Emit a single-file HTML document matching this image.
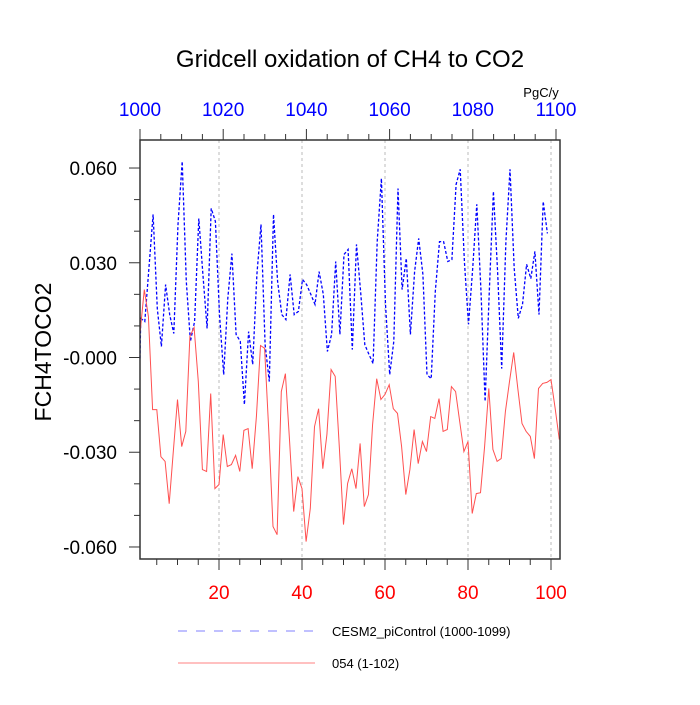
<!DOCTYPE html>
<html><head><meta charset="utf-8"><style>
body{margin:0;background:#fff}
svg text{font-family:"Liberation Sans",sans-serif}
</style></head><body>
<svg id="chart" width="700" height="700" xmlns="http://www.w3.org/2000/svg">
<text x="350" y="67" text-anchor="middle" font-size="24">Gridcell oxidation of CH4 to CO2</text>
<text transform="translate(51,352) rotate(-90)" text-anchor="middle" font-size="23">FCH4TOCO2</text>
<text x="541" y="97" text-anchor="middle" font-size="13">PgC/y</text>
<g id="grid"></g><g id="series"></g><g id="axes"></g>
<g>
<line x1="178" y1="631" x2="315" y2="631" stroke="#8080ff" stroke-width="1" stroke-dasharray="9,9"/>
<text x="332" y="636" font-size="13">CESM2_piControl (1000-1099)</text>
<line x1="178" y1="663" x2="315" y2="663" stroke="#ff8080" stroke-width="1"/>
<text x="332" y="668" font-size="13">054 (1-102)</text>
</g>
</svg>
<script>
const blueYears0 = 1000;
const blueValues = [-0.0003,0.0124,0.0114,0.0282,0.0453,0.0155,0.0035,0.0231,0.0136,0.0076,0.0421,0.0621,0.0241,0.0051,0.0114,0.0440,0.0263,0.0092,0.0472,0.0431,0.0136,-0.0054,0.0187,0.0329,0.0073,0.0051,-0.0149,0.0082,-0.0022,0.0263,0.0421,0.0041,-0.0076,0.0453,0.0241,0.0136,0.0120,0.0263,0.0136,0.0146,0.0247,0.0231,0.0200,0.0168,0.0272,0.0200,0.0019,0.0073,0.0304,0.0073,0.0326,0.0342,0.0025,0.0358,0.0209,0.0041,0.0010,-0.0019,0.0367,0.0567,0.0168,-0.0054,0.0051,0.0535,0.0215,0.0314,0.0073,0.0272,0.0377,0.0263,-0.0054,-0.0067,0.0209,0.0367,0.0367,0.0304,0.0310,0.0548,0.0596,0.0304,0.0105,0.0282,0.0485,0.0209,-0.0139,0.0209,0.0526,0.0272,-0.0035,0.0367,0.0596,0.0282,0.0124,0.0168,0.0295,0.0250,0.0336,0.0136,0.0494,0.0393];
const redValues = [0.0082,0.0215,0.0130,-0.0165,-0.0165,-0.0314,-0.0329,-0.0463,-0.0298,-0.0133,-0.0282,-0.0234,0.0067,0.0095,-0.0076,-0.0355,-0.0361,-0.0114,-0.0415,-0.0402,-0.0244,-0.0345,-0.0339,-0.0310,-0.0361,-0.0231,-0.0225,-0.0352,-0.0187,0.0038,0.0029,-0.0234,-0.0535,-0.0561,-0.0108,-0.0051,-0.0266,-0.0488,-0.0377,-0.0415,-0.0583,-0.0478,-0.0219,-0.0162,-0.0352,-0.0244,-0.0038,-0.0060,-0.0288,-0.0529,-0.0399,-0.0352,-0.0415,-0.0272,-0.0472,-0.0434,-0.0212,-0.0067,-0.0133,-0.0117,-0.0086,-0.0162,-0.0177,-0.0282,-0.0434,-0.0355,-0.0228,-0.0336,-0.0266,-0.0298,-0.0187,-0.0193,-0.0130,-0.0234,-0.0228,-0.0092,-0.0108,-0.0203,-0.0298,-0.0266,-0.0494,-0.0431,-0.0428,-0.0282,-0.0098,-0.0291,-0.0329,-0.0320,-0.0171,-0.0076,0.0016,-0.0098,-0.0209,-0.0234,-0.0250,-0.0320,-0.0098,-0.0082,-0.0079,-0.0070,-0.0162,-0.0260];
const yTicks = [0.06,0.03,0,-0.03,-0.06];
const yTickLabels = ["0.060","0.030","-0.000","-0.030","-0.060"];
const bottomTicks = [20,40,60,80,100];
const topTicks = [1000,1020,1040,1060,1080,1100];

const L=140,R=560,T=140,B=559;
const xb = i => 136 + 4.15*i;
const xt = yr => 140 + 4.16*(yr-1000);
const xs = yr => Math.max(L, 136.5 + 4.15*(yr-1000));
const y = v => 357.5 - v*3158;
const NS="http://www.w3.org/2000/svg";
function mk(tag, parent, attrs){const e=document.createElementNS(NS,tag);for(const k in attrs)e.setAttribute(k,attrs[k]);parent.appendChild(e);return e;}
const grid=document.getElementById('grid'), series=document.getElementById('series'), axes=document.getElementById('axes');

bottomTicks.forEach(t=>{const g=mk('line',grid,{x1:xb(t),x2:xb(t),y1:T,y2:B,stroke:'#bbb','stroke-width':1,'stroke-dasharray':'3,3'});

});

let pb=blueValues.map((v,i)=>xs(blueYears0+i).toFixed(1)+','+y(v).toFixed(1)).join(' ');
const bl=mk('polyline',series,{points:pb,fill:'none',stroke:'#0000ff','stroke-width':1.3,'stroke-dasharray':'3,2'});


let pr=redValues.map((v,i)=>xb(i+1).toFixed(1)+','+y(v).toFixed(1)).join(' ');
const rl=mk('polyline',series,{points:pr,fill:'none',stroke:'#ff5050','stroke-width':1});



const frame=mk('rect',axes,{x:L,y:T,width:R-L,height:B-T,fill:'none',stroke:'#333','stroke-width':1.5});



for(let v=-0.06;v<=0.0601;v+=0.01){const maj=Math.abs(Math.round(v*100)%3)===0;
const t=mk('line',axes,{x1:L-(maj?11:6),x2:L,y1:y(v),y2:y(v),stroke:'#333','stroke-width':1});

}
yTicks.forEach((v,i)=>{const t=mk('text',axes,{x:L-23,y:y(v)+7,'text-anchor':'end','font-size':19});t.textContent=yTickLabels[i];

});

for(let v=5;v<=100;v+=5){const maj=v%20===0;
const t=mk('line',axes,{x1:xb(v),x2:xb(v),y1:B,y2:B+(maj?11:6),stroke:'#333','stroke-width':1});

}
bottomTicks.forEach(v=>{const t=mk('text',axes,{x:xb(v),y:599,'text-anchor':'middle','font-size':19,fill:'#ff0000'});t.textContent=v;

});

for(let v=1000;v<=1100;v+=5){const maj=v%20===0;
const t=mk('line',axes,{x1:xt(v),x2:xt(v),y1:T,y2:T-(maj?11:6),stroke:'#333','stroke-width':1});

}
topTicks.forEach(v=>{const t=mk('text',axes,{x:xt(v),y:116,'text-anchor':'middle','font-size':19,fill:'#0000ff'});t.textContent=v;

});
</script>
</body></html>
